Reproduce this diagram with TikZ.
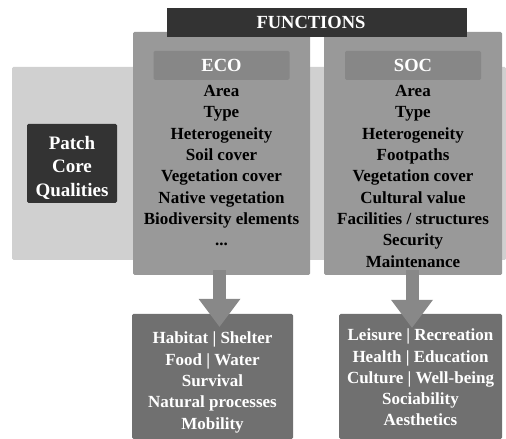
\documentclass[tikz,border=0pt]{standalone}
\usepackage{fontspec}
\setmainfont{Liberation Serif}
\usetikzlibrary{positioning,arrows.meta}
\definecolor{bggray}{HTML}{D0D0D0}
\definecolor{colgray}{HTML}{999999}
\definecolor{headgray}{HTML}{878787}
\definecolor{darkgray}{HTML}{333333}
\definecolor{outgray}{HTML}{707070}
\definecolor{arrowgray}{HTML}{888888}

\begin{document}
\begin{tikzpicture} [x=1pt, y=1pt, box/.style={rectangle, inner sep=0pt, rounded corners=1.5pt}, column/.style={box, fill=colgray, minimum width=177pt, minimum height=243pt}, head/.style={box, fill=headgray, text=white, font=\bfseries\fontsize{18.5}{22}\selectfont, minimum width=136pt, minimum height=29pt}, items/.style={align=center, inner sep=0pt, font=\bfseries\fontsize{17}{21.3}\selectfont}, result/.style={box, fill=outgray, minimum height=125pt}, bigarrow/.style={draw=arrowgray, line width=13pt, -{Triangle[width=42pt, length=28pt, line width=0pt]}}]
  \useasboundingbox (0,0) rectangle (506,439);
  % Core qualities band
  \node [box, fill=bggray, minimum width=494pt, minimum height=193pt] (band) at (259,275.5) {};
  \node [box, fill=darkgray, minimum width=90pt, minimum height=79pt] (patch) at (72,275.5) {};
  \node [items, text=white, font=\bfseries\fontsize{19}{23.5}\selectfont] (patchtext) at ([yshift=-4pt]patch.center) {Patch\\Core\\Qualities};
  % Function columns
  \node [column] (ecobox) at (221.5,285.5) {};
  \node [column, minimum width=178pt] (socbox) at (413,285.5) {};
  \node [rectangle, fill=darkgray, text=white, minimum width=300pt, minimum height=29pt, font=\bfseries\fontsize{18.5}{22}\selectfont] (functions) at (317,416.5) {FUNCTIONS\hspace*{12pt}};
  \node [head, below=19pt of ecobox.north] (ecohead) {ECO};
  \node [head, below=19pt of socbox.north] (sochead) {SOC};
  \node [items, below=5pt of ecohead] (ecoitems) {Area\\Type\\Heterogeneity\\Soil cover\\Vegetation cover\\Native vegetation\\Biodiversity elements\\...};
  \node [items, below=5pt of sochead] (socitems) {Area\\Type\\Heterogeneity\\Footpaths\\Vegetation cover\\Cultural value\\Facilities / structures\\Security\\Maintenance};
  % Results
  \node [result, minimum width=161pt] (ecoout) at (212.5,62.5) {};
  \node [result, minimum width=163pt] (socout) at (420.5,62.5) {};
  \node [items, text=white] (ecoroles) at ([yshift=-6pt]ecoout.center) {Habitat | Shelter\\Food | Water\\Survival\\Natural processes\\Mobility};
  \node [items, text=white] (socroles) at ([yshift=-1pt]socout.center) {Leisure | Recreation\\Health | Education\\Culture | Well-being\\Sociability\\Aesthetics};
  % Draw arrows
  \draw [bigarrow] ([xshift=-2pt, yshift=5pt]ecobox.south) -- ([xshift=-2pt, yshift=-13pt]ecobox.south |- ecoout.north);
  \draw [bigarrow] ([xshift=-1pt, yshift=5pt]socbox.south) -- ([xshift=-1pt, yshift=-14pt]socbox.south |- socout.north);
\end{tikzpicture}
\end{document}
